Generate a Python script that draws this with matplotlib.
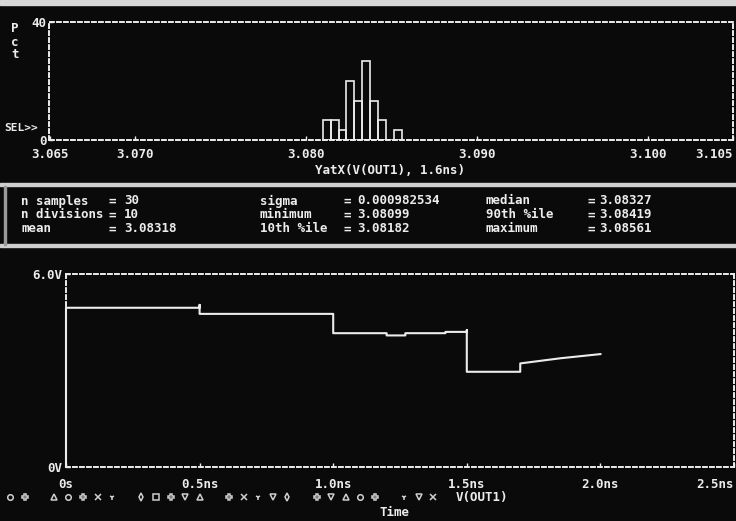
import numpy as np
import matplotlib
matplotlib.use('Agg')
import matplotlib.pyplot as plt

# --- data ---
hist_counts = [2, 2, 1, 6, 4, 8, 4, 2, 0, 1]     # samples per division
n_samples = 30
v_min, v_max = 3.08099, 3.08561                  # histogram spans min..max
hist_xticks = [3.065, 3.070, 3.080, 3.090, 3.100, 3.105]

stats_rows = [
    [('n samples', '30'), ('sigma', '0.000982534'), ('median', '3.08327')],
    [('n divisions', '10'), ('minimum', '3.08099'), ('90th %ile', '3.08419')],
    [('mean', '3.08318'), ('10th %ile', '3.08182'), ('maximum', '3.08561')],
]

time_ns = [0.0, 0.0, 0.5, 0.5, 0.5, 0.5, 1.0, 1.0, 1.2, 1.2, 1.27, 1.27, 1.42, 1.42,
           1.5, 1.5, 1.5, 1.7, 1.7, 1.85, 2.0]
v_out1 = [0.0, 4.95, 4.95, 5.04, 4.95, 4.76, 4.76, 4.16, 4.16, 4.09, 4.09, 4.16, 4.16, 4.20,
          4.20, 4.26, 2.96, 2.96, 3.22, 3.38, 3.51]
time_ticks = [0.0, 0.5, 1.0, 1.5, 2.0, 2.5]
time_labels = ['0s', '0.5ns', '1.0ns', '1.5ns', '2.0ns', '2.5ns']

run_markers = ['o', 'P', None, '^', 'o', 'P', 'x', '1', None, 'd', 's', 'P', 'v', '^', None,
               'P', 'x', '1', 'v', 'd', None, 'P', 'v', '^', 'o', 'P', None, '1', 'v', 'x']

W, H = 736, 521
FG = '#ececec'
BG = '#0a0a0a'
FS = 9
FONT = dict(family='DejaVu Sans Mono', weight='bold', color=FG)

fig = plt.figure(figsize=(W / 100, H / 100), dpi=100, facecolor=BG)


def px_axes(x0, y0, x1, y1):
    # axes placed by pixel box (top-left origin)
    return fig.add_axes([x0 / W, 1 - y1 / H, (x1 - x0) / W, (y1 - y0) / H])


def fx(x):
    return x / W


def fy(y):
    return 1 - y / H


def style_axes(ax):
    ax.set_facecolor(BG)
    for sp in ax.spines.values():
        sp.set_color(FG)
        sp.set_linewidth(1.4)
        sp.set_linestyle((0, (2, 1.6)))
    ax.tick_params(colors=FG, direction='in', length=3, width=1)


# frame strips and separators
fig.patches.append(plt.Rectangle((0, fy(5)), 1, 5 / H, transform=fig.transFigure, color='#d8d8d8'))
fig.patches.append(plt.Rectangle((0, fy(186)), 1, 3 / H, transform=fig.transFigure, color='#cfcfcf'))
fig.patches.append(plt.Rectangle((0, fy(247)), 1, 3 / H, transform=fig.transFigure, color='#cfcfcf'))
fig.patches.append(plt.Rectangle((fx(4), fy(245)), 1.5 / W, 59 / H, transform=fig.transFigure, color='#9a9a9a'))

# --- histogram ---
ax1 = px_axes(49.5, 22, 733, 140)
style_axes(ax1)
edges = np.linspace(v_min, v_max, len(hist_counts) + 1)
pct = np.array(hist_counts) / n_samples * 100
ax1.bar(edges[:-1], pct, width=np.diff(edges), align='edge', facecolor='none',
        edgecolor=FG, linewidth=1.2)
ax1.set_xlim(3.065, 3.105)
ax1.set_ylim(0, 40)
ax1.set_xticks(hist_xticks)
ax1.set_xticklabels(['%.3f' % v for v in hist_xticks], fontsize=FS, **FONT)
ax1.get_xticklabels()[-1].set_ha('right')
ax1.tick_params(axis='x', pad=6)
ax1.set_yticks([0, 40])
ax1.set_yticklabels(['0', '40'], fontsize=FS, **FONT)
ax1.tick_params(axis='y', pad=2)
for i, ch in enumerate('Pct'):
    fig.text(fx(15), fy(29 + 13 * i), ch, fontsize=FS, ha='center', va='center', **FONT)
fig.text(fx(4), fy(128), 'SEL>>', fontsize=8, ha='left', va='center', **FONT)
fig.text(fx(390), fy(170), 'YatX(V(OUT1), 1.6ns)', fontsize=FS, ha='center', va='center', **FONT)

# --- statistics panel ---
col_x = [(21, 108, 124), (260, 343, 357), (486, 587, 599)]
row_y = [201, 215, 229]
for r, row in enumerate(stats_rows):
    for c, (name, val) in enumerate(row):
        xn, xe, xv = col_x[c]
        fig.text(fx(xn), fy(row_y[r]), name, fontsize=FS, ha='left', va='center', **FONT)
        fig.text(fx(xe), fy(row_y[r]), '=', fontsize=FS, ha='left', va='center', **FONT)
        fig.text(fx(xv), fy(row_y[r]), val, fontsize=FS, ha='left', va='center', **FONT)

# --- transient plot ---
ax2 = px_axes(66, 274, 734, 467)
style_axes(ax2)
ax2.plot(time_ns, v_out1, color=FG, linewidth=1.5, clip_on=False, zorder=5)
ax2.set_xlim(0, 2.5)
ax2.set_ylim(0, 6)
ax2.set_xticks(time_ticks)
ax2.set_xticklabels(time_labels, fontsize=FS, **FONT)
ax2.get_xticklabels()[-1].set_ha('right')
ax2.tick_params(axis='x', pad=8)
ax2.set_yticks([0, 6])
ax2.set_yticklabels(['0V', '6.0V'], fontsize=FS, **FONT)
ax2.tick_params(axis='y', pad=3)

# run marker legend row
for i, m in enumerate(run_markers):
    if m is None:
        continue
    fig.lines.append(plt.Line2D([fx(10 + 14.6 * i)], [fy(497)], marker=m, markersize=4,
                                color='#cfcfcf', markerfacecolor='none', markeredgewidth=1.1,
                                linestyle='none', transform=fig.transFigure))
fig.text(fx(456), fy(497), 'V(OUT1)', fontsize=FS, ha='left', va='center', **FONT)
fig.text(fx(394), fy(512), 'Time', fontsize=FS, ha='center', va='center', **FONT)

fig.savefig('out.png', dpi=100, facecolor=BG)
